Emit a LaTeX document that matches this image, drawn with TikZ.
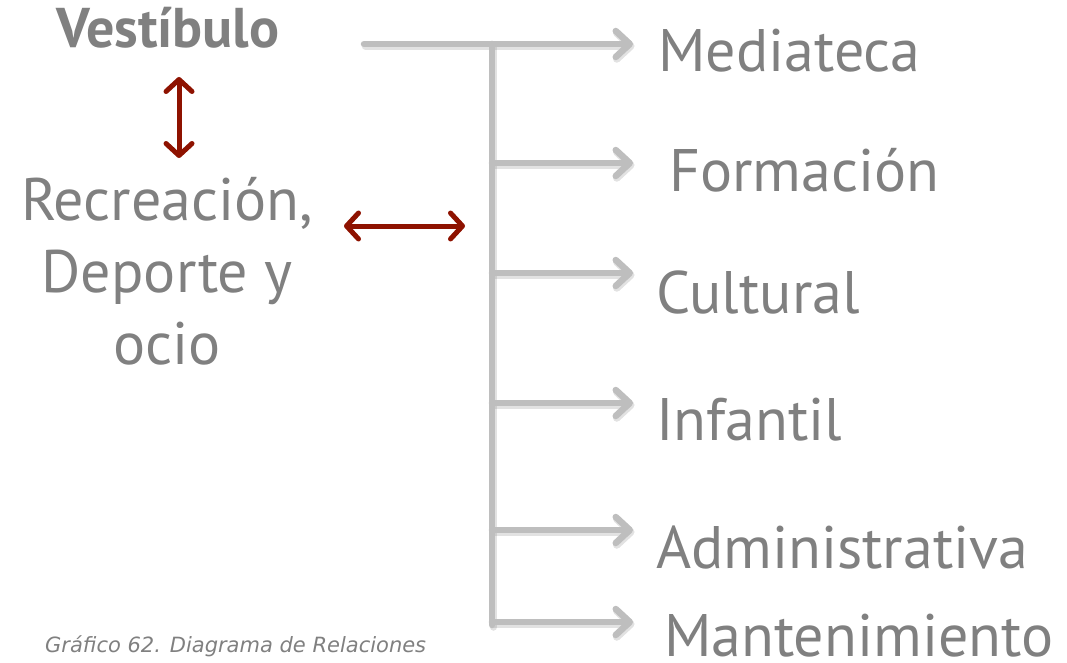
\documentclass[tikz,border=0pt]{standalone}
\usepackage{fontspec}
\setmainfont{PT Sans}
\newfontfamily\capfont{DejaVu Sans}
\usetikzlibrary{arrows.meta}
\definecolor{txtgray}{HTML}{808080}
\definecolor{arrgray}{HTML}{BEBEBE}
\definecolor{shadegray}{HTML}{8A8A8A}
\definecolor{relred}{HTML}{8E1200}
\begin{document}
\begin{tikzpicture}[x=1pt,y=-1pt,
  lbl/.style={anchor=base west,inner sep=0pt,text=txtgray,font=\fontsize{60}{72}\selectfont},
  graytree/.style={draw=arrgray,line width=6.5pt,line cap=round,line join=round},
  grayarrow/.style={graytree,-{Straight Barb[length=14pt,width=26pt,line cap=round,line join=round]}},
  shadow/.style={draw=shadegray,opacity=0.25,line width=7.5pt,line cap=round,line join=round,transform canvas={shift={(1.5pt,-2pt)}}},
  shadowarrow/.style={shadow,-{Straight Barb[length=14pt,width=26pt,line cap=round,line join=round]}},
  relarrow/.style={draw=relred,line width=5pt,{Straight Barb[length=12pt,width=26pt,line cap=round,line join=round]}-{Straight Barb[length=12pt,width=26pt,line cap=round,line join=round]}}
]
\useasboundingbox (0,0) rectangle (1067,663);

% left texts
\node[anchor=base,inner sep=0pt,text=txtgray,font=\fontsize{56}{60}\bfseries\selectfont] (vest) at (168,48) {Vestíbulo};
\node[anchor=base,inner sep=0pt,text=txtgray,align=center,font=\fontsize{60}{72}\selectfont] (rec) at (167,364) {Recreación,\\Deporte y\\ocio};

% right labels
\node[lbl] (med) at (658,72) {Mediateca};
\node[lbl] (for) at (669,192) {Formación};
\node[lbl] (cul) at (656,313) {Cultural};
\node[lbl] (inf) at (656,440) {Infantil};
\node[lbl] (adm) at (656,568) {Administrativa};
\node[lbl] (man) at (664,656) {Mantenimiento};

% caption
\node[anchor=base west,inner sep=0pt,text=txtgray,font=\capfont\itshape\fontsize{21}{24}\selectfont] (cap) at (45,652) {Gráfico 62. Diagrama de Relaciones};

% tree coordinates
\coordinate (s0) at (364,44);
\coordinate (j0) at (492,44);
\coordinate (jend) at (492,625);
\coordinate (j1) at (492,163);
\coordinate (j2) at (492,273);
\coordinate (j3) at (492,403);
\coordinate (j4) at (492,530);
\coordinate (j5) at (492,622);
\coordinate (t0) at (633,44);
\coordinate (t1) at (633,163);
\coordinate (t2) at (633,273);
\coordinate (t3) at (633,403);
\coordinate (t4) at (633,530);
\coordinate (t5) at (633,622);

% shadows
\draw[shadow] (j0) -- (jend);
\draw[shadowarrow] (s0) -- (t0);
\foreach \i in {1,...,5} {\draw[shadowarrow] (j\i) -- (t\i);}

% gray tree
\draw[graytree] (j0) -- (jend);
\draw[grayarrow] (s0) -- (t0);
\draw[grayarrow] (j1) -- (t1);
\draw[grayarrow] (j2) -- (t2);
\draw[grayarrow] (j3) -- (t3);
\draw[grayarrow] (j4) -- (t4);
\draw[grayarrow] (j5) -- (t5);

% red relations
\coordinate (r1) at (179,77);
\coordinate (r2) at (179,158);
\coordinate (h1) at (344,226);
\coordinate (h2) at (465,226);
\draw[relarrow] (r1) -- (r2);
\draw[relarrow] (h1) -- (h2);
\end{tikzpicture}
\end{document}
